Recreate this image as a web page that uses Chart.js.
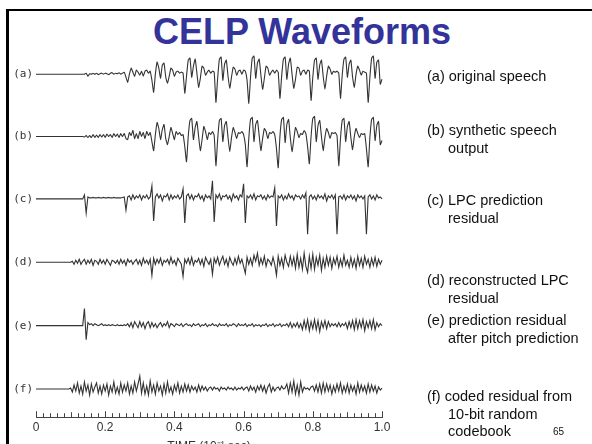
<!DOCTYPE html>
<html>
<head>
<meta charset="utf-8">
<title>CELP Waveforms</title>
<script src="https://cdn.jsdelivr.net/npm/chart.js@4.4.1/dist/chart.umd.min.js"></script>
<style>
  html, body { margin: 0; padding: 0; background: #fff; overflow: hidden; }
  body { width: 592px; height: 444px; position: relative; }
  #frame { position: absolute; left: 6px; top: 9px; width: 600px; height: 460px;
           border-left: 3px solid #000; border-top: 2px solid #000; }
  #title { position: absolute; left: 0; width: 604px; top: 14px; text-align: center;
           font: bold 36px "Liberation Sans", Arial, sans-serif; line-height: 1; color: #333399; }
  #wrap { position: absolute; left: 0; top: 0; width: 592px; height: 454px; }
  .note { position: absolute; left: 427px; font: 14.5px "Liberation Sans", Arial, sans-serif;
          line-height: 17.5px; color: #111; padding-left: 21px; text-indent: -21px; white-space: nowrap; }
  #page { position: absolute; left: 553px; top: 426px; font: 10px "Liberation Sans", Arial, sans-serif; color: #111; }
</style>
</head>
<body>
<div id="frame"></div>
<div id="title">CELP Waveforms</div>
<div id="wrap"><canvas id="celp-waveforms"></canvas></div>
<div class="note" style="top:68px">(a) original speech</div>
<div class="note" style="top:122px">(b) synthetic speech<br>output</div>
<div class="note" style="top:192px">(c) LPC prediction<br>residual</div>
<div class="note" style="top:272px">(d) reconstructed LPC<br>residual</div>
<div class="note" style="top:312px">(e) prediction residual<br>after pitch prediction</div>
<div class="note" style="top:388px">(f) coded residual from<br>10-bit random<br>codebook</div>
<div id="page">65</div>
<script>
/////////////////////////////////////////////////////////////////////////////////

// Sample spacing of the traces, in ms (axis runs 0..100 ms = 0..1.0 x 10^-1 sec)
var SAMPLE_MS = 0.5;

// Trace labels
var traceLabels = ['(a)', '(b)', '(c)', '(d)', '(e)', '(f)'];

// X axis tick labels, every 20 ms
var timeTickLabels = ['0', '0.2', '0.4', '0.6', '0.8', '1.0'];

// (a) original speech
var speechA = [
  0,0,0,0,0,0,0,0,0,0,
  0,0,0,0,0,0,0,0,0,0,
  0,0,0,0,0,0,0,0,0,1,
  -2,0.5,0,1,0,1,-0.5,0.5,1,0,
  1,0.5,-0.5,1,1.5,0,1,0.5,1.5,0,
  1,2,-3,-8,0,6,2,-2,4,2,
  -1,3,-2,3,4,1,3,-6,-18,0,
  12,6,-4,9,11,-3,-9,-2,6,4,
  -2,2,3,1,2,1,-19,-2,14,16,
  -3,8,15,1,-13,-4,8,6,-1,2,
  4,1,3,2,-28,-4,15,17,-6,10,
  14,-2,-14,-3,7,5,-1,3,4,0,
  4,3,-6,-29,-3,16,18,-4,11,15,
  -1,-15,-4,8,6,-1,2,4,1,4,
  2,-24,-2,15,17,-5,10,16,0,-14,
  -5,7,6,-1,3,4,0,4,3,-26,
  -3,14,16,-5,9,14,-2,-15,-2,8,
  5,0,3,2,3,1,-24,-1,15,17,
  -3,10,14,-3,-13,0,8,4,-1,3,
  2,1,-28,-3,16,18,-4,12,14,-10,
  -5
];

// (b) synthetic speech output
var speechB = [
  0,0,0,0,0,0,0,0,0,0,
  0,0,0,0,0,0,0,0,0,0,
  0,0,0,0,0,0,0,0,-0.5,1,
  -1,1,-1,2,-1,1.5,-1,2,-0.5,2,
  -1,2.5,0,2,-1,3,0,2.5,-1,3,
  0,3,-2,-3,4,1,6,-2,3,-2,
  5,0,4,-2,5,1,4,-5,-14,2,
  14,8,-3,7,12,-2,-8,0,9,3,
  -3,5,2,4,1,2,-10,-25,0,16,
  18,-3,9,15,0,-14,-3,10,5,-3,
  4,2,5,1,-29,-3,16,18,-5,11,
  15,-1,-15,-1,9,4,-2,4,3,5,
  2,-8,-30,-2,17,19,-5,12,16,1,
  -14,-2,8,5,-2,4,3,5,2,-12,
  -31,0,17,19,-6,12,17,-1,-15,-3,
  9,5,-1,3,2,6,3,-10,-27,0,
  18,20,-5,11,16,0,-14,-1,8,4,
  -2,4,3,4,1,-29,-2,16,18,-5,
  10,15,-1,-13,0,8,3,-1,3,2,
  3,-12,-30,-1,17,19,-4,11,15,-8,
  -4
];

// (c) LPC prediction residual
var residualC = [
  0,0,0,0,0,0,0,0,0,0,
  0,0,0,0,0,0,0,0,0,0,
  0,0,0,0,0,0,0,0,4,-14,
  2,1,1,1.5,1,1,1.5,1,1,1.5,
  1,1,1.5,1,1,1.5,1,1,1,1,
  1.5,2,-11,2,3,-1,4,0,3,1,
  4,-1,3,1,4,0,2,13,-22,2,
  5,1,4,-2,3,2,5,-1,4,0,
  3,1,4,0,2,10,-24,3,5,0,
  4,-1,3,2,5,0,3,-2,4,1,
  3,0,18,-23,4,1,5,-1,3,2,
  4,0,3,-2,5,1,3,-1,4,2,
  15,-24,3,1,4,0,5,-1,3,2,
  4,0,3,-1,4,1,3,2,11,-27,
  3,1,4,-1,3,0,5,1,3,-1,
  4,2,3,0,4,1,6,-35,2,4,
  0,3,-1,4,1,3,0,5,-2,3,
  1,4,0,4,-35,2,3,0,4,-1,
  3,1,4,0,3,-2,4,1,3,0,
  3,-35,2,4,0,3,-1,4,1,2,
  0
];

// (d) reconstructed LPC residual
var residualD = [
  0,0,0,0,0,0,0,0,0,0,
  0,0,0,0,0,0,0,0,0,0,
  0,1,-2,2,-1,3,-2,1,3,-2,
  2,-1,3,-3,2,1,-2,3,-1,2,
  -2,3,0,-3,2,1,-1,2,-2,3,
  -1,2,-3,3,0,2,-2,1,3,-2,
  2,-3,4,-1,2,-2,3,-13,4,-2,
  3,-1,4,-3,2,0,3,-2,5,-1,
  2,-3,4,1,-2,-14,3,-1,4,-2,
  5,-3,2,0,4,-2,3,-4,5,1,
  -2,3,-12,4,-1,5,-3,2,6,-2,
  3,-4,5,0,-3,4,-2,6,-1,3,
  -4,-11,5,-2,4,-3,7,1,9,-3,
  4,-2,6,-4,3,1,-3,5,-2,-13,
  6,-3,4,-5,7,0,-4,6,-3,5,
  -6,8,-5,4,-7,9,-4,-10,6,-6,
  8,-7,5,-3,7,-8,4,-5,6,-3,
  5,-6,4,-2,6,-5,3,-4,7,-3,
  2,-5,5,-4,3,-6,6,-3,4,-5,
  6,-2,3,-5,4,-3,5,-4,3,-2,
  2
];

// (e) prediction residual after pitch prediction
var residualE = [
  0,0,0,0,0,0,0,0,0,0,
  0,0,0,0,0,0,0,0,0,0,
  0,0,0,0,0,0,0,0,17,-14,
  3,1,2,0,2,1,0,1,2,0,
  1,0,1,0,1,0.5,0,1,0,0.5,
  0,1,0,2,-1,3,-2,4,1,-2,
  4,-1,3,-3,2,4,-2,3,-1,2,
  -2,1,3,-1,2,0,4,-2,2,1,
  -1,2,1,0,2,-1,1,2,0,1,
  -1,2,0,1,2,-1,1,0,2,-1,
  1,0,2,0,1,-1,2,0,1,0,
  2,-1,1,0,2,1,-1,2,0,1,
  0,2,-1,1,0,2,-1,1,0,1,
  -1,1,0,2,-1,1,0,2,-1,1,
  0,2,-1,1,0,2,-1,3,-2,2,
  -1,3,-2,2,-4,5,-3,6,-5,4,
  -3,6,-4,5,-6,4,-2,5,-3,4,
  -1,2,0,2,-1,3,-1,2,0,3,
  -3,4,-2,5,-4,6,-3,5,-2,6,
  -5,4,-2,5,-3,6,-4,3,-1,2,
  0
];

// (f) coded residual from 10-bit random codebook
var codedF = [
  0,0,0,0,0,0,0,0,0,0,
  0,0,0,0,0,0,0,0,0,0,
  1,-3,4,-2,6,-4,3,-5,7,-2,
  4,-6,5,-3,2,6,-4,3,-5,4,
  -2,5,-6,3,-3,7,-4,2,-5,6,
  -3,4,-2,6,-5,3,-4,7,-2,5,
  13,-4,6,-5,3,-6,8,-3,4,-5,
  6,-2,3,-6,5,-4,7,-3,2,-5,
  4,-2,6,-4,3,-3,5,-2,4,-3,
  3,-1,2,-3,4,-2,3,-1,2,-2,
  1,2,-1,2,0,1,-2,2,0,1,
  -1,2,0,1,-1,2,-1,1,0,2,
  -1,1,2,-2,3,-1,2,-3,3,-1,
  4,-2,3,-4,2,5,-3,2,-2,1,
  2,-1,3,0,1,5,-4,6,-3,8,
  -5,4,-6,7,-3,2,0,1,-1,2,
  3,-2,4,-3,5,-4,6,-3,5,-2,
  4,-5,3,-3,5,-2,6,-4,3,-3,
  5,-4,4,-2,3,-5,6,-3,4,-2,
  3,-4,5,-3,4,-2,3,-4,2,-1,
  1
];

// Sample instants (ms)
var timeMs = speechA.map(function (_, i) { return i * SAMPLE_MS; });

//////////////////////////////////////////////////////////////////////////////////

var traces = [speechA, speechB, residualC, residualD, residualE, codedF];
var axisIds = ['yA', 'yB', 'yC', 'yD', 'yE', 'yF'];
// baseline of each strip sits a little lower as we go down the page
var axisRanges = [[-31, 31], [-31, 31], [-31, 31], [-30, 32], [-29, 33], [-28, 34]];

// small upward tick marks every 2 ms along the time axis
var timeTicks = {
    id: 'timeTicks',
    afterDraw: function (chart) {
        var xs = chart.scales.x, c = chart.ctx, y0 = xs.top;
        c.save();
        c.strokeStyle = '#444';
        c.lineWidth = 1;
        for (var t = 0; t <= 100; t += 2) {
            var px = Math.round(xs.getPixelForValue(t)) + 0.5;
            var len = t % 20 === 0 ? 6 : (t % 10 === 0 ? 5 : 4);
            c.beginPath();
            c.moveTo(px, y0);
            c.lineTo(px, y0 - len);
            c.stroke();
        }
        c.restore();
    }
};

// Chart Options
var scales = {
    x: {
        type: 'linear',
        min: 0,
        max: 100,
        grid: { display: false, drawTicks: false },
        border: { display: true, color: '#444', width: 1 },
        ticks: {
            stepSize: 20,
            padding: 3,
            color: '#333',
            font: { family: 'Liberation Sans', size: 12 },
            callback: function (v) { return timeTickLabels[Math.round(v / 20)]; }
        },
        title: {
            display: true,
            text: 'TIME (10\u207B\u00B9 sec)',
            color: '#333',
            font: { family: 'Liberation Sans', size: 12 },
            padding: { top: 2, bottom: 0 }
        }
    }
};

// left boxes are laid out last-first, so define the bottom strip first
for (var k = axisIds.length - 1; k >= 0; k--) {
    (function (i) {
        scales[axisIds[i]] = {
            type: 'linear',
            position: 'left',
            stack: 'traces',
            stackWeight: 1,
            min: axisRanges[i][0],
            max: axisRanges[i][1],
            grid: { display: false, drawTicks: false },
            border: { display: false },
            afterBuildTicks: function (s) { s.ticks = [{ value: 0 }]; },
            afterFit: function (s) { s.width = 36; },
            ticks: {
                padding: 3,
                color: '#333',
                font: { family: 'DejaVu Sans Mono', size: 11 },
                callback: function () { return traceLabels[i]; }
            }
        };
    })(k);
}

var chartOptions = {
    responsive: true,
    maintainAspectRatio: false,
    animation: false,
    layout: { padding: { top: 43, right: 210, left: 0, bottom: 0 } },
    plugins: { legend: { display: false }, tooltip: { enabled: false } },
    scales: scales
};

// Chart Data
var chartData = {
    labels: timeMs,
    datasets: traces.map(function (values, i) {
        return {
            label: traceLabels[i],
            data: values,
            yAxisID: axisIds[i],
            borderColor: '#333',
            borderWidth: 1.1,
            pointRadius: 0,
            tension: i < 2 ? 0.15 : 0,
            clip: false
        };
    })
};

var config = {
    type: 'line',
    options: chartOptions,
    data: chartData,
    plugins: [timeTicks]
};

// Create the chart
var waveformChart = new Chart(document.getElementById('celp-waveforms'), config);

//////////////////////////////////////////////////////////////////////////////////
</script>
</body>
</html>
